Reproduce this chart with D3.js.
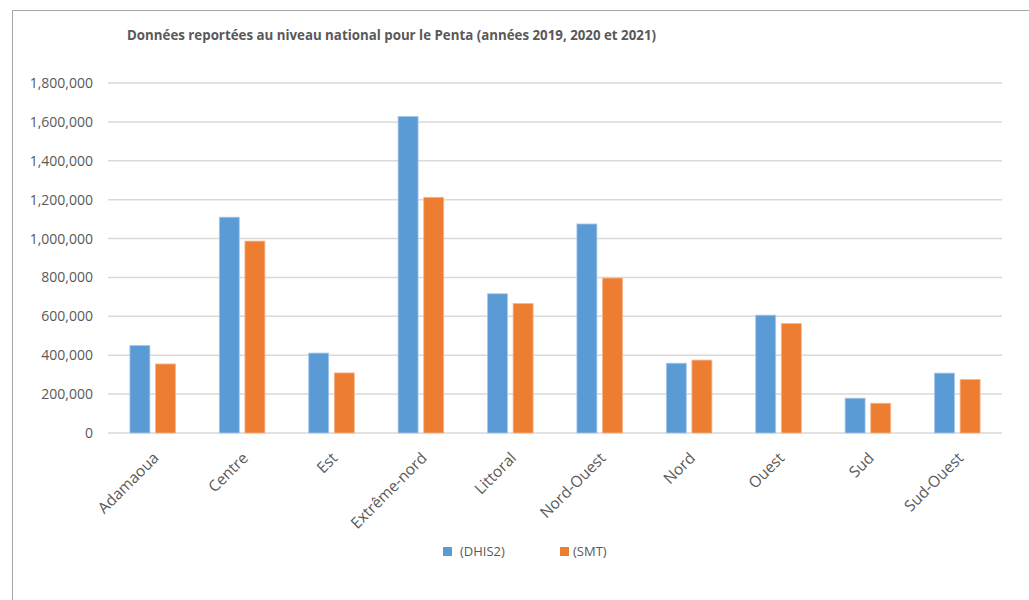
<!DOCTYPE html>
<html>
<head>
<meta charset="utf-8">
<script src="https://cdn.jsdelivr.net/npm/d3@7"></script>
<style>
  html, body { margin: 0; padding: 0; background: #fff; }
  svg { display: block; }
  text { font-family: "Open Sans", "DejaVu Sans", sans-serif; fill: #595959; }
</style>
</head>
<body>
<svg id="chart" width="1029" height="600"></svg>
<script>
// Regions and reported Penta totals per source
const categories = ["Adamaoua", "Centre", "Est", "Extrême-nord", "Littoral", "Nord-Ouest", "Nord", "Ouest", "Sud", "Sud-Ouest"];
const seriesNames = ["(DHIS2)", "(SMT)"];
const dhis2Values = [450000, 1110000, 411000, 1628000, 716000, 1075000, 359000, 606000, 179000, 308000];
const smtValues = [355000, 987000, 309000, 1212000, 666000, 797000, 375000, 563000, 153000, 275000];
const yTicks = [0, 200000, 400000, 600000, 800000, 1000000, 1200000, 1400000, 1600000, 1800000];
const colors = ["#5B9BD5", "#ED7D31"];
const titleText = "Données reportées au niveau national pour le Penta (années 2019, 2020 et 2021)";

const rows = categories.map((c, i) => ({ category: c, values: [dhis2Values[i], smtValues[i]] }));

const svg = d3.select("#chart");

// chart frame
svg.append("path")
  .attr("d", "M12.5,600 V10.5 H1029")
  .attr("fill", "none")
  .attr("stroke", "#a6a6a6")
  .attr("stroke-width", 1);

// title
svg.append("text")
  .attr("x", 127)
  .attr("y", 40)
  .attr("font-size", 13.3)
  .attr("font-weight", "bold")
  .text(titleText);

const x = d3.scaleBand().domain(categories).range([108, 1002]).padding(0);
const y = d3.scaleLinear().domain([0, 1800000]).range([433, 83]);

// grid lines
svg.append("g")
  .selectAll("line")
  .data(yTicks)
  .join("line")
  .attr("x1", 108)
  .attr("x2", 1002)
  .attr("y1", d => y(d))
  .attr("y2", d => y(d))
  .attr("stroke", "#d9d9d9")
  .attr("stroke-width", 1.5);

// y axis labels
const yAxis = d3.axisLeft(y).tickValues(yTicks).tickFormat(d3.format(",")).tickSize(0).tickPadding(0);
const gy = svg.append("g").attr("transform", "translate(93,0)").call(yAxis);
gy.select(".domain").remove();
gy.selectAll("text")
  .attr("font-size", 14)
  .attr("fill", "#595959")
  .style("font-family", "'Open Sans', sans-serif");

// grouped bars
const groupWidth = x.bandwidth() * 0.51;
const x1 = d3.scaleBand().domain(d3.range(seriesNames.length)).range([-groupWidth / 2, groupWidth / 2]).paddingInner(0.22);

const groups = svg.append("g")
  .selectAll("g")
  .data(rows)
  .join("g")
  .attr("transform", d => `translate(${x(d.category) + x.bandwidth() / 2},0)`);

groups.selectAll("rect")
  .data(d => d.values.map((v, k) => ({ v, k })))
  .join("rect")
  .attr("x", d => x1(d.k))
  .attr("width", x1.bandwidth())
  .attr("y", d => y(d.v))
  .attr("height", d => y(0) - y(d.v))
  .attr("fill", d => colors[d.k])
  .attr("stroke", d => d.k === 0 ? "#a9c8ea" : "#f5b68f")
  .attr("stroke-width", 0.8);

// x axis labels, rotated
const xAxis = d3.axisBottom(x).tickSize(0).tickPadding(0);
const gx = svg.append("g").attr("transform", "translate(0,433)").call(xAxis);
gx.select(".domain").remove();
gx.selectAll("text")
  .attr("font-size", 15.5)
  .attr("fill", "#595959")
  .style("font-family", "'Open Sans', sans-serif")
  .attr("text-anchor", "end")
  .attr("dy", null)
  .attr("y", 0)
  .attr("transform", "translate(7,26) rotate(-45)");

// legend
const legend = svg.append("g")
  .selectAll("g")
  .data(seriesNames)
  .join("g")
  .attr("transform", (d, i) => `translate(${[443, 560][i]},547)`);
legend.append("rect")
  .attr("width", 9)
  .attr("height", 9)
  .attr("fill", (d, i) => colors[i]);
legend.append("text")
  .attr("x", (d, i) => [17, 13][i])
  .attr("y", 9)
  .attr("font-size", 13)
  .text(d => d);
</script>
</body>
</html>
